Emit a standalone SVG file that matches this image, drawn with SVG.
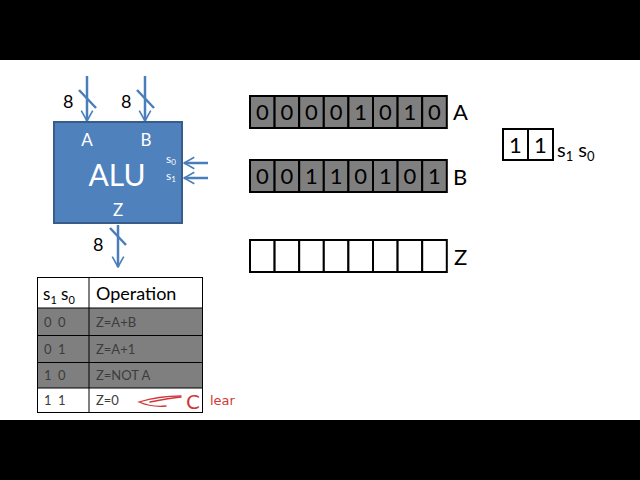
<svg xmlns="http://www.w3.org/2000/svg" width="640" height="480" viewBox="0 0 640 480">
<defs>
<marker id="arr" viewBox="0 0 12 12" refX="11" refY="6" markerWidth="5.5" markerHeight="5.5" orient="auto" markerUnits="strokeWidth">
<path d="M2,1 L11,6 L2,11" fill="none" stroke="#4a7ebb" stroke-width="1.4" stroke-linejoin="miter"/>
</marker>
</defs>
<style>
.bar{fill:#000}
.alu{fill:#4f81bd;stroke:#385d8a;stroke-width:2}
.wire{stroke:#4a7ebb;stroke-width:2.5;fill:none}
.w{font-family:Lato,"Liberation Sans",sans-serif;fill:#fff}
.t{font-family:Lato,"Liberation Sans",sans-serif;fill:#000}
.cellg{fill:#7f7f7f;stroke:#000;stroke-width:2}
.cellw{fill:#fff;stroke:#000;stroke-width:2}
.dig{font-family:Lato,"Liberation Sans",sans-serif;font-size:22px;fill:#000;text-anchor:middle}
.row{fill:#7f7f7f}
.grid{stroke:#000;stroke-width:1;fill:none}
.rt{font-family:Lato,"Liberation Sans",sans-serif;font-size:13px;fill:#3c3c3c}
.red{fill:none;stroke:#d03838;stroke-width:1.3;stroke-linecap:round}
.hand{font-family:"DejaVu Sans",sans-serif;fill:#d03838}
</style>
<rect class="bar" x="0" y="0" width="640" height="60"/>
<rect class="bar" x="0" y="420" width="640" height="60"/>
<rect x="0" y="60" width="640" height="360" fill="#fff"/>

<g id="connectors">
<line class="wire" x1="87" y1="76" x2="87" y2="121" marker-end="url(#arr)"/>
<line class="wire" x1="145" y1="76" x2="145" y2="121" marker-end="url(#arr)"/>
<line class="wire" x1="118" y1="225" x2="118" y2="267" marker-end="url(#arr)"/>
<line class="wire" x1="208" y1="163" x2="184" y2="163" marker-end="url(#arr)"/>
<line class="wire" x1="208" y1="178" x2="184" y2="178" marker-end="url(#arr)"/>
<line class="wire" x1="79" y1="90" x2="96" y2="108" stroke-width="2"/>
<line class="wire" x1="137" y1="90" x2="154" y2="108" stroke-width="2"/>
<line class="wire" x1="110" y1="228" x2="126" y2="245" stroke-width="2"/>
</g>

<g id="alu">
<rect class="alu" x="54" y="122" width="128" height="101"/>
<text class="w" x="87" y="146" font-size="17" text-anchor="middle">A</text>
<text class="w" x="146" y="146" font-size="17" text-anchor="middle">B</text>
<text class="w" x="117" y="186" font-size="30" text-anchor="middle">ALU</text>
<text class="w" x="118" y="216" font-size="17" text-anchor="middle">Z</text>
<text class="w" x="166" y="163" font-size="12">s<tspan font-size="8" dy="2">0</tspan></text>
<text class="w" x="166" y="180" font-size="12">s<tspan font-size="8" dy="2">1</tspan></text>
</g>
<g id="labels8">
<text class="t" x="63" y="108" font-size="18">8</text>
<text class="t" x="121" y="108" font-size="18">8</text>
<text class="t" x="93" y="251" font-size="18">8</text>
</g>

<g id="table">
<rect class="row" x="37" y="308" width="166" height="80"/>
<rect class="grid" x="37.5" y="277.5" width="165" height="135"/>
<line class="grid" x1="89" y1="277" x2="89" y2="413"/>
<line class="grid" x1="37" y1="308" x2="203" y2="308"/>
<line class="grid" x1="37" y1="335.5" x2="203" y2="335.5"/>
<line class="grid" x1="37" y1="362.5" x2="203" y2="362.5"/>
<line class="grid" x1="37" y1="388" x2="203" y2="388"/>
<text class="t" x="43" y="300" font-size="17">s<tspan font-size="11" dy="4">1</tspan><tspan dy="-4"> s</tspan><tspan font-size="11" dy="4">0</tspan></text>
<text class="t" x="96" y="300" font-size="18">Operation</text>
<text class="rt" x="44" y="327">0</text><text class="rt" x="58" y="327">0</text>
<text class="rt" x="96" y="327">Z=A+B</text>
<text class="rt" x="44" y="354">0</text><text class="rt" x="58" y="354">1</text>
<text class="rt" x="96" y="354">Z=A+1</text>
<text class="rt" x="44" y="380">1</text><text class="rt" x="58" y="380">0</text>
<text class="rt" x="96" y="380">Z=NOT A</text>
<text class="rt" x="44" y="405">1</text><text class="rt" x="58" y="405">1</text>
<text class="rt" x="96" y="405">Z=0</text>
</g>

<g id="clear">
<path class="red" d="M181,396 C168,396 152,398 139,402 C146,405 156,407 166,406"/>
<path class="red" d="M150,402 C160,400 170,398 181,397"/>
<text class="hand" x="186" y="409" font-size="20">C</text>
<text class="hand" x="210" y="405" font-size="13">lear</text>
</g>

<g id="regA">
<rect class="cellg" x="250" y="96" width="24.6" height="32"/>
<rect class="cellg" x="274.6" y="96" width="24.6" height="32"/>
<rect class="cellg" x="299.2" y="96" width="24.6" height="32"/>
<rect class="cellg" x="323.8" y="96" width="24.6" height="32"/>
<rect class="cellg" x="348.4" y="96" width="24.6" height="32"/>
<rect class="cellg" x="373" y="96" width="24.6" height="32"/>
<rect class="cellg" x="397.6" y="96" width="24.6" height="32"/>
<rect class="cellg" x="422.2" y="96" width="24.6" height="32"/>
<text class="dig" x="262.3" y="120">0</text>
<text class="dig" x="286.9" y="120">0</text>
<text class="dig" x="311.5" y="120">0</text>
<text class="dig" x="336.1" y="120">0</text>
<text class="dig" x="360.7" y="120">1</text>
<text class="dig" x="385.3" y="120">0</text>
<text class="dig" x="409.9" y="120">1</text>
<text class="dig" x="434.5" y="120">0</text>
<text class="t" x="453" y="120" font-size="22">A</text>
</g>

<g id="regB">
<rect class="cellg" x="250" y="160" width="24.6" height="32"/>
<rect class="cellg" x="274.6" y="160" width="24.6" height="32"/>
<rect class="cellg" x="299.2" y="160" width="24.6" height="32"/>
<rect class="cellg" x="323.8" y="160" width="24.6" height="32"/>
<rect class="cellg" x="348.4" y="160" width="24.6" height="32"/>
<rect class="cellg" x="373" y="160" width="24.6" height="32"/>
<rect class="cellg" x="397.6" y="160" width="24.6" height="32"/>
<rect class="cellg" x="422.2" y="160" width="24.6" height="32"/>
<text class="dig" x="262.3" y="184">0</text>
<text class="dig" x="286.9" y="184">0</text>
<text class="dig" x="311.5" y="184">1</text>
<text class="dig" x="336.1" y="184">1</text>
<text class="dig" x="360.7" y="184">0</text>
<text class="dig" x="385.3" y="184">1</text>
<text class="dig" x="409.9" y="184">0</text>
<text class="dig" x="434.5" y="184">1</text>
<text class="t" x="453" y="185" font-size="22">B</text>
</g>

<g id="regZ">
<rect class="cellw" x="250" y="240" width="24.6" height="32"/>
<rect class="cellw" x="274.6" y="240" width="24.6" height="32"/>
<rect class="cellw" x="299.2" y="240" width="24.6" height="32"/>
<rect class="cellw" x="323.8" y="240" width="24.6" height="32"/>
<rect class="cellw" x="348.4" y="240" width="24.6" height="32"/>
<rect class="cellw" x="373" y="240" width="24.6" height="32"/>
<rect class="cellw" x="397.6" y="240" width="24.6" height="32"/>
<rect class="cellw" x="422.2" y="240" width="24.6" height="32"/>
<text class="t" x="454" y="265" font-size="22">Z</text>
</g>

<g id="regS">
<rect class="cellw" x="503" y="129" width="25" height="31"/>
<rect class="cellw" x="528" y="129" width="25" height="31"/>
<text class="dig" x="515.5" y="153">1</text>
<text class="dig" x="540.5" y="153">1</text>
<text class="t" x="557" y="157" font-size="20">s<tspan font-size="13" dy="4">1</tspan><tspan dy="-4"> s</tspan><tspan font-size="13" dy="4">0</tspan></text>
</g>
</svg>
